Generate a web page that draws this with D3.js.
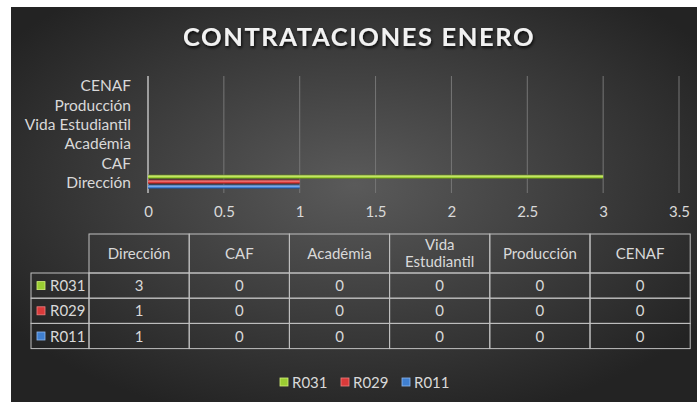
<!DOCTYPE html>
<html lang="es">
<head>
    <meta charset="utf-8">
    <title>Contrataciones Enero</title>
    <script src="https://d3js.org/d3.v7.min.js" charset="utf-8"></script>
    <style>
        body { margin: 0; background: #fff; }
        svg text { font-family: Lato, "Open Sans", sans-serif; fill: #d9d9d9; }
    </style>
</head>
<body>
<script>
    // data
    var categories = ["Dirección", "CAF", "Académia ", "Vida Estudiantil", "Producción", "CENAF"]
    var tableHeaders = ["Dirección", "CAF", "Académia", "Vida\nEstudiantil", "Producción", "CENAF"]
    var seriesNames = ["R031", "R029", "R011"]
    var R031 = [3, 0, 0, 0, 0, 0]
    var R029 = [1, 0, 0, 0, 0, 0]
    var R011 = [1, 0, 0, 0, 0, 0]
    var xTicks = [0, 0.5, 1, 1.5, 2, 2.5, 3, 3.5]

    var seriesValues = { R031: R031, R029: R029, R011: R011 }
    var colors = {
        R031: ["#d4f07a", "#9acd32", "#5f7f1a"],
        R029: ["#f08080", "#d93a3a", "#8a1a1a"],
        R011: ["#8fb8ef", "#3f7fd0", "#1f4a8a"]
    }
    var fs = "15px"

    var w = 697, h = 402
    var svg = d3.select("body").append("svg").attr("width", w).attr("height", h)
    var defs = svg.append("defs")

    var bg = defs.append("radialGradient").attr("id", "bg")
        .attr("cx", "50%").attr("cy", "45%").attr("r", "62%")
    bg.append("stop").attr("offset", "0%").attr("stop-color", "#5a5a5a")
    bg.append("stop").attr("offset", "100%").attr("stop-color", "#232323")

    seriesNames.forEach(function(s) {
        var g = defs.append("linearGradient").attr("id", "g" + s)
            .attr("x1", 0).attr("y1", 0).attr("x2", 0).attr("y2", 1)
        g.append("stop").attr("offset", "0%").attr("stop-color", colors[s][2])
        g.append("stop").attr("offset", "35%").attr("stop-color", colors[s][0])
        g.append("stop").attr("offset", "70%").attr("stop-color", colors[s][1])
        g.append("stop").attr("offset", "100%").attr("stop-color", colors[s][2])
    })

    var shadow = defs.append("filter").attr("id", "tshadow")
    shadow.append("feDropShadow").attr("dx", 1).attr("dy", 2).attr("stdDeviation", 1.5)
        .attr("flood-color", "#000").attr("flood-opacity", 0.8)

    svg.append("rect").attr("x", 11).attr("y", 7).attr("width", w - 11).attr("height", h - 7)
        .attr("fill", "url(#bg)")

    // title
    svg.append("text").attr("x", 359).attr("y", 46).attr("text-anchor", "middle")
        .style("font-size", "25.5px").style("font-weight", "bold").style("letter-spacing", "1.6px")
        .style("fill", "#f2f2f2").attr("filter", "url(#tshadow)")
        .text("CONTRATACIONES ENERO")

    // scales
    var x = d3.scaleLinear().domain([0, 3.5]).range([148, 679])
    var y = d3.scaleBand().domain(categories).range([193, 77])
    var ySeries = d3.scaleBand().domain(seriesNames).range([0, y.bandwidth()])
        .paddingInner(0.2).paddingOuter(0.53).align(0.19)

    // gridlines
    svg.append("g").selectAll("line").data(xTicks.slice(1)).join("line")
        .attr("x1", d => x(d)).attr("x2", d => x(d))
        .attr("y1", 76).attr("y2", 193)
        .attr("stroke", "#767676").attr("stroke-width", 1)

    // x axis labels
    var xAxis = d3.axisBottom(x).tickValues(xTicks).tickSize(0).tickPadding(0)
        .tickFormat(d3.format("~g"))
    var xg = svg.append("g").attr("transform", "translate(0,206)").call(xAxis)
    xg.select(".domain").remove()
    xg.selectAll("text").style("font-size", fs).style("fill", "#d9d9d9")
        .attr("font-family", null)

    // y axis
    var yAxis = d3.axisLeft(y).tickSize(0).tickPadding(17)
    var yg = svg.append("g").attr("transform", "translate(148,0)").call(yAxis)
    yg.select(".domain").attr("stroke", "#bfbfbf").attr("stroke-width", 1.5)
        .attr("d", "M0,76V193")
    yg.selectAll("text").style("font-size", "15.5px").style("fill", "#d9d9d9")
        .attr("font-family", null).attr("dy", "0.3em")

    // bars
    seriesNames.forEach(function(s) {
        svg.append("g").selectAll("rect").data(seriesValues[s]).join("rect")
            .attr("x", x(0))
            .attr("y", (d, i) => y(categories[i]) + ySeries(s))
            .attr("width", d => x(d) - x(0))
            .attr("height", ySeries.bandwidth())
            .attr("fill", "url(#g" + s + ")")
    })

    // data table
    var tLeft = 89, colW = 100.2, tTop = 234, headH = 39, rowH = 25.2, labelLeft = 31
    var tbl = svg.append("g")
    var lineColor = "#bfbfbf"
    tableHeaders.forEach(function(t, i) {
        var cx = tLeft + i * colW
        tbl.append("rect").attr("x", cx).attr("y", tTop).attr("width", colW).attr("height", headH)
            .attr("fill", "none").attr("stroke", lineColor)
        var parts = t.split("\n")
        var tx = tbl.append("text").attr("x", cx + colW / 2).attr("text-anchor", "middle")
            .style("font-size", fs)
        parts.forEach(function(p, k) {
            tx.append("tspan").attr("x", cx + colW / 2)
                .attr("y", tTop + headH / 2 + 5 + (k - (parts.length - 1) / 2) * 17)
                .text(p)
        })
    })
    seriesNames.forEach(function(s, r) {
        var ry = tTop + headH + r * rowH
        tbl.append("rect").attr("x", labelLeft).attr("y", ry).attr("width", tLeft - labelLeft).attr("height", rowH)
            .attr("fill", "none").attr("stroke", lineColor)
        tbl.append("rect").attr("x", labelLeft + 6).attr("y", ry + rowH / 2 - 4).attr("width", 8).attr("height", 8)
            .attr("fill", colors[s][1]).attr("stroke", colors[s][0]).attr("stroke-width", 0.8)
        tbl.append("text").attr("x", labelLeft + 19).attr("y", ry + rowH / 2 + 5.5)
            .style("font-size", fs).text(s)
        seriesValues[s].forEach(function(v, i) {
            var cx = tLeft + i * colW
            tbl.append("rect").attr("x", cx).attr("y", ry).attr("width", colW).attr("height", rowH)
                .attr("fill", "none").attr("stroke", lineColor)
            tbl.append("text").attr("x", cx + colW / 2).attr("y", ry + rowH / 2 + 5.5)
                .attr("text-anchor", "middle").style("font-size", fs).text(v)
        })
    })

    // legend
    var legend = svg.append("g")
    var lx = [280, 341, 402]
    seriesNames.forEach(function(s, i) {
        legend.append("rect").attr("x", lx[i]).attr("y", 378).attr("width", 8).attr("height", 8)
            .attr("fill", colors[s][1]).attr("stroke", colors[s][0]).attr("stroke-width", 0.8)
        legend.append("text").attr("x", lx[i] + 12).attr("y", 387.5)
            .style("font-size", fs).text(s)
    })
</script>
</body>
</html>
